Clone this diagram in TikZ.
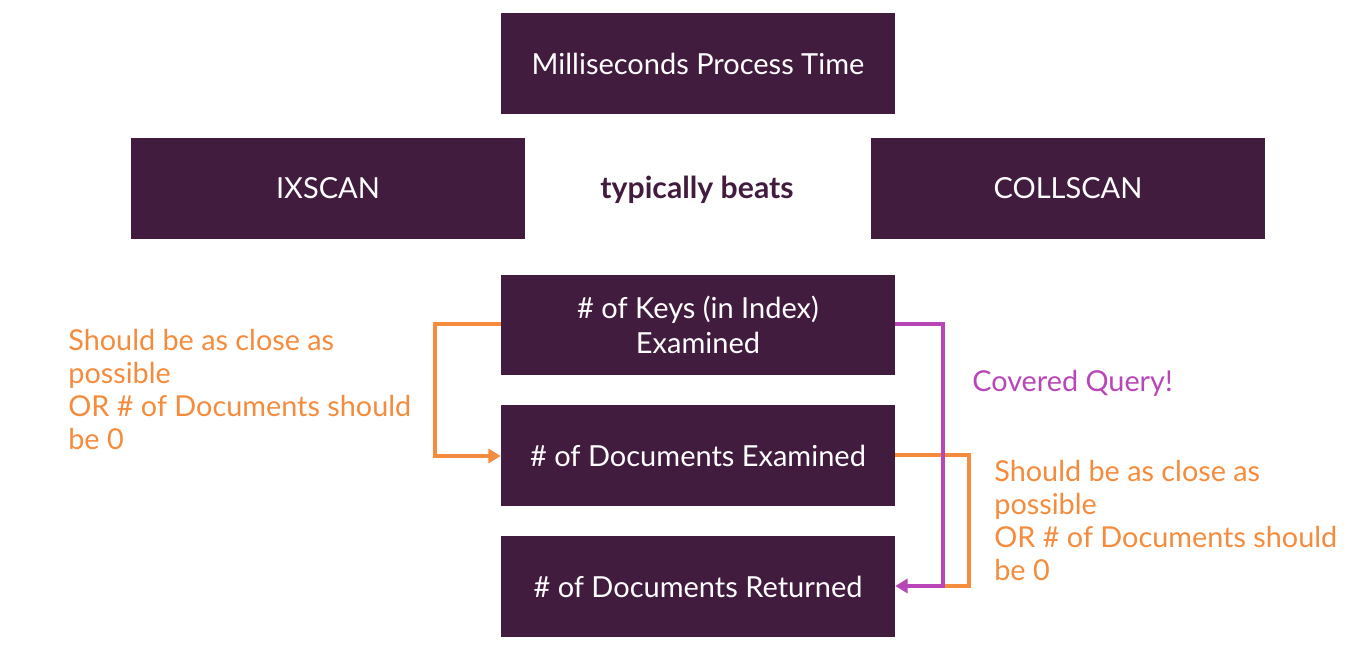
\documentclass[tikz,border=0pt]{standalone}
\usepackage{fontspec}
\setmainfont{Lato}
\usetikzlibrary{arrows.meta}
\definecolor{boxpurple}{HTML}{421C3F}
\definecolor{noteorange}{HTML}{F58B3C}
\definecolor{notemagenta}{HTML}{B946B7}
\tikzset{
  stagebox/.style={fill=boxpurple, text=white, minimum width=7.88cm, minimum height=2.02cm,
    align=center, inner sep=0pt, font=\fontsize{16.5}{19.5}\selectfont},
  notetext/.style={anchor=north west, align=left, inner sep=0pt,
    font=\fontsize{16.4}{18.8}\selectfont},
  link/.style={line width=1.8pt, -{Triangle[length=7pt,width=8pt]}}
}
\begin{document}
\begin{tikzpicture}[x=0.02cm, y=-0.02cm]
      \useasboundingbox (0,0) rectangle (1367,662);

      \node [stagebox] (T) at (698,63.5) {Milliseconds Process Time};
      \node [stagebox] (I) at (328,188.5) {IXSCAN};
      \node [stagebox] (C) at (1068,188.5) {COLLSCAN};
      \node [text=boxpurple, font=\fontsize{17.2}{19.5}\selectfont\bfseries] (B) at (697,189.5) {typically beats};

      \node [stagebox] (K) at (698,325) {\# of Keys (in Index)\\Examined};
      \node [stagebox] (D) at (698,455.5) {\# of Documents Examined};
      \node [stagebox] (R) at (698,586.5) {\# of Documents Returned};

      \coordinate (L1) at (435,324);
      \coordinate (L2) at (435,456);
      \coordinate (P1) at (943,324);
      \coordinate (P2) at (943,586);
      \coordinate (O1) at (969,455);
      \coordinate (O2) at (969,586);

      \draw [link, noteorange] (K.west |- L1) -- (L1) -- (L2) -- (D.west |- L2);
      \draw [line width=1.8pt, noteorange] (D.east |- O1) -- (O1) -- (O2) -- (P2);
      \draw [link, notemagenta] (K.east |- P1) -- (P1) -- (P2) -- (R.east |- P2);

      \node [notetext, text=noteorange] (NL) at (68,329) {Should be as close as\\possible\\OR \# of Documents should\\be 0};
      \node [notetext, text=noteorange] (NR) at (994,460) {Should be as close as\\possible\\OR \# of Documents should\\be 0};
      \node [notetext, text=notemagenta] (Q) at (972,370) {Covered Query!};

\end{tikzpicture}
\end{document}
